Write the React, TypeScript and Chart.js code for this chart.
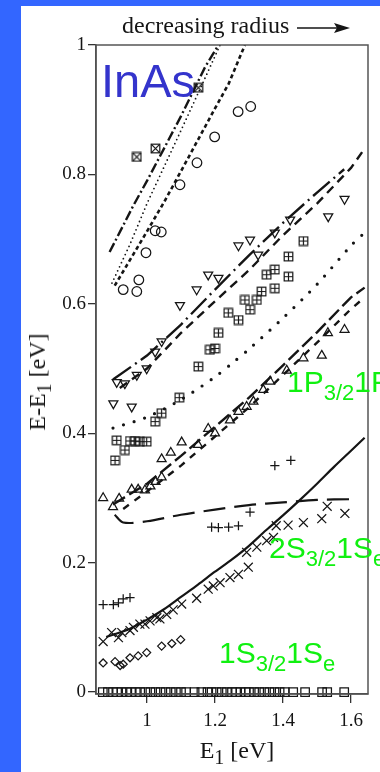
import React, { useEffect, useRef } from 'react';
import { Chart, registerables } from 'chart.js';
Chart.register(...registerables);

const INK = '#151515';
const SERIF = '"Liberation Serif", "Times New Roman", serif';
const SANS = '"Liberation Sans", Arial, sans-serif';
const GREEN = '#10f010';

const xTicks = [1, 1.2, 1.4, 1.6];
const yTicks = [0, 0.2, 0.4, 0.6, 0.8, 1];

// 1S3/2 1Se reference (open squares on zero)
const squaresZero: [number, number][] = [
  [0.87, 0], [0.885, 0], [0.9, 0], [0.912, 0], [0.925, 0], [0.94, 0], [0.953, 0], [0.967, 0], [0.98, 0],
  [0.995, 0], [1.01, 0], [1.025, 0], [1.04, 0], [1.055, 0], [1.07, 0], [1.085, 0], [1.1, 0], [1.115, 0],
  [1.14, 0], [1.16, 0], [1.178, 0], [1.19, 0], [1.205, 0], [1.22, 0], [1.235, 0], [1.25, 0], [1.262, 0],
  [1.275, 0], [1.29, 0], [1.3, 0], [1.315, 0], [1.33, 0], [1.345, 0], [1.36, 0], [1.375, 0], [1.39, 0],
  [1.405, 0], [1.43, 0], [1.465, 0], [1.515, 0], [1.53, 0], [1.58, 0],
];

const diamonds: [number, number][] = [
  [0.871, 0.045], [0.906, 0.047], [0.921, 0.041], [0.93, 0.043], [0.95, 0.053],
  [0.974, 0.056], [0.999, 0.061], [1.043, 0.071], [1.073, 0.075], [1.099, 0.081],
];

const crosses: [number, number][] = [
  [0.871, 0.078], [0.896, 0.092], [0.916, 0.084], [0.926, 0.092], [0.95, 0.095], [0.96, 0.1],
  [0.979, 0.105], [0.994, 0.105], [1.009, 0.11], [1.029, 0.115], [1.038, 0.113], [1.058, 0.12],
  [1.077, 0.127], [1.102, 0.136], [1.146, 0.145], [1.18, 0.159], [1.195, 0.164], [1.215, 0.169],
  [1.244, 0.177], [1.269, 0.182], [1.298, 0.193], [1.293, 0.216], [1.323, 0.224], [1.352, 0.234],
  [1.372, 0.239], [1.38, 0.257], [1.415, 0.258], [1.46, 0.262], [1.514, 0.268], [1.53, 0.287], [1.582, 0.276],
];

const solidCurve: [number, number][] = [
  [0.88, 0.085], [0.95, 0.098], [1.0, 0.112], [1.05, 0.128], [1.1, 0.147], [1.15, 0.166], [1.2, 0.186],
  [1.25, 0.205], [1.3, 0.226], [1.35, 0.25], [1.4, 0.273], [1.45, 0.297], [1.5, 0.322], [1.55, 0.348],
  [1.6, 0.373], [1.64, 0.393],
];

const pluses: [number, number][] = [
  [0.871, 0.135], [0.901, 0.135], [0.916, 0.138], [0.93, 0.144], [0.95, 0.146], [1.19, 0.255],
  [1.21, 0.254], [1.24, 0.255], [1.269, 0.257], [1.303, 0.278], [1.376, 0.35], [1.423, 0.358],
];

const plusCurve: [number, number][] = [
  [0.905, 0.274], [0.93, 0.262], [1.0, 0.264], [1.1, 0.274], [1.2, 0.282], [1.3, 0.289],
  [1.4, 0.293], [1.5, 0.297], [1.6, 0.298],
];

const triUp: [number, number][] = [
  [0.871, 0.3], [0.9, 0.286], [0.918, 0.299], [0.955, 0.313], [0.974, 0.313], [0.994, 0.312],
  [1.01, 0.318], [1.025, 0.325], [1.043, 0.332], [1.043, 0.36], [1.07, 0.37], [1.102, 0.386],
  [1.15, 0.382], [1.18, 0.407], [1.2, 0.4], [1.244, 0.42], [1.269, 0.433], [1.293, 0.441],
  [1.313, 0.449], [1.342, 0.467], [1.362, 0.48], [1.411, 0.497], [1.46, 0.516], [1.514, 0.52],
  [1.532, 0.555], [1.581, 0.56],
];

const triCurveA: [number, number][] = [
  [0.9, 0.29], [1.0, 0.322], [1.1, 0.365], [1.2, 0.41], [1.3, 0.455], [1.4, 0.505], [1.5, 0.556],
  [1.6, 0.61], [1.64, 0.625],
];
const triCurveB: [number, number][] = [
  [0.93, 0.283], [1.0, 0.31], [1.1, 0.35], [1.2, 0.395], [1.3, 0.44], [1.4, 0.49], [1.5, 0.54],
  [1.6, 0.592], [1.64, 0.61],
];

const boxPlus: [number, number][] = [
  [0.906, 0.358], [0.911, 0.389], [0.935, 0.374], [0.95, 0.388], [0.965, 0.388], [0.979, 0.387],
  [0.999, 0.387], [1.024, 0.418], [1.043, 0.431], [1.095, 0.455], [1.151, 0.503], [1.185, 0.529],
  [1.2, 0.531], [1.21, 0.555], [1.239, 0.586], [1.269, 0.575], [1.288, 0.606], [1.303, 0.591],
  [1.323, 0.606], [1.337, 0.619], [1.352, 0.645], [1.376, 0.653], [1.376, 0.624], [1.416, 0.642],
  [1.416, 0.673], [1.46, 0.697],
];

const boxPlusCurve: [number, number][] = [
  [0.9, 0.408], [1.0, 0.425], [1.1, 0.452], [1.2, 0.487], [1.25, 0.508], [1.3, 0.53], [1.4, 0.578],
  [1.5, 0.63], [1.6, 0.69], [1.64, 0.71],
];

const triDown: [number, number][] = [
  [0.901, 0.446], [0.911, 0.479], [0.935, 0.477], [0.955, 0.441], [0.97, 0.49], [0.999, 0.5],
  [1.024, 0.526], [1.043, 0.542], [1.097, 0.598], [1.146, 0.622], [1.18, 0.645], [1.21, 0.64],
  [1.269, 0.69], [1.303, 0.699], [1.327, 0.676], [1.376, 0.71], [1.421, 0.73], [1.533, 0.735],
  [1.581, 0.762],
];

const triDownCurveC: [number, number][] = [
  [0.9, 0.483], [1.0, 0.52], [1.1, 0.568], [1.2, 0.622], [1.3, 0.675], [1.4, 0.725], [1.5, 0.772],
  [1.58, 0.808],
];
const triDownCurveD: [number, number][] = [
  [0.92, 0.47], [1.0, 0.5], [1.1, 0.555], [1.2, 0.604], [1.3, 0.652], [1.4, 0.706], [1.5, 0.755],
  [1.6, 0.81], [1.64, 0.84],
];

const circles: [number, number][] = [
  [0.93, 0.622], [0.97, 0.619], [0.976, 0.637], [0.997, 0.679], [1.024, 0.713], [1.042, 0.711],
  [1.097, 0.784], [1.147, 0.818], [1.199, 0.858], [1.268, 0.897], [1.305, 0.905],
];

const boxX: [number, number][] = [
  [0.97, 0.827], [1.025, 0.84], [1.151, 0.934],
];

const topCurveE: [number, number][] = [
  [0.89, 0.68], [0.96, 0.752], [1.0, 0.79], [1.1, 0.89], [1.17, 0.965], [1.21, 1.0],
];
const topCurveF: [number, number][] = [
  [0.897, 0.632], [0.95, 0.692], [1.0, 0.755], [1.1, 0.868], [1.156, 0.932], [1.215, 1.0],
];
const topCurveG: [number, number][] = [
  [0.905, 0.628], [1.0, 0.712], [1.05, 0.757], [1.1, 0.805], [1.2, 0.902], [1.24, 0.94], [1.288, 1.0],
];

const toXY = (a: [number, number][]) => a.map(([x, y]) => ({ x, y }));

function makeBoxMarker(kind: 'plus' | 'x') {
  const c = document.createElement('canvas');
  c.width = 11;
  c.height = 11;
  const g = c.getContext('2d')!;
  g.strokeStyle = INK;
  g.lineWidth = 1.2;
  g.strokeRect(1.2, 1.2, 8.6, 8.6);
  g.beginPath();
  if (kind === 'plus') {
    g.moveTo(5.5, 1.2); g.lineTo(5.5, 9.8);
    g.moveTo(1.2, 5.5); g.lineTo(9.8, 5.5);
  } else {
    g.moveTo(1.2, 1.2); g.lineTo(9.8, 9.8);
    g.moveTo(9.8, 1.2); g.lineTo(1.2, 9.8);
  }
  g.stroke();
  return c;
}

const mkLine = (pts: [number, number][], dash: number[], width: number, cap = 'butt', tension = 0) => ({
  data: toXY(pts),
  showLine: true,
  borderColor: INK,
  borderWidth: width,
  borderDash: dash,
  borderCapStyle: cap,
  pointRadius: 0,
  pointHoverRadius: 0,
  tension,
  fill: false,
});

const mkPts = (pts: [number, number][], style: any, radius: number, extra: any = {}) => ({
  data: toXY(pts),
  showLine: false,
  pointStyle: style,
  pointRadius: radius,
  pointHoverRadius: radius,
  pointBorderColor: INK,
  pointBackgroundColor: 'rgba(0,0,0,0)',
  pointBorderWidth: 1.25,
  clip: false,
  ...extra,
});

const framePlugin = {
  id: 'frame',
  afterDraw(chart: any) {
    const { ctx, chartArea } = chart;
    const { left, top, right, bottom } = chartArea;
    ctx.save();
    ctx.strokeStyle = '#555';
    ctx.lineWidth = 1.5;
    ctx.strokeRect(left, top, right - left, bottom - top);
    ctx.restore();
  },
};

export default function App() {
  const ref = useRef<HTMLCanvasElement | null>(null);

  useEffect(() => {
    document.body.style.margin = '0';
    const canvas = ref.current;
    if (!canvas) return;
    const bp = makeBoxMarker('plus');
    const bx = makeBoxMarker('x');
    const tickFont = { family: SERIF, size: 19 };
    const chart = new Chart(canvas, {
      type: 'scatter',
      data: {
        datasets: [
          mkLine(solidCurve, [], 2.2, 'butt', 0.3),
          mkLine(plusCurve, [22, 9], 2.2, 'butt', 0.3),
          mkLine(triCurveA, [14, 5], 2.4),
          mkLine(triCurveB, [7, 7], 2.4),
          mkLine(boxPlusCurve, [0, 11], 3.2, 'round', 0.3),
          mkLine(triDownCurveC, [22, 5, 2, 5], 2.4),
          mkLine(triDownCurveD, [9, 6], 2.4),
          mkLine(topCurveE, [10, 3, 2, 3], 2.4),
          mkLine(topCurveF, [0, 4.5], 1.8, 'round'),
          mkLine(topCurveG, [4, 3], 2.6),
          mkPts(squaresZero, 'rect', 6),
          mkPts(diamonds, 'rectRot', 4),
          mkPts(crosses, 'crossRot', 6.3),
          mkPts(pluses, 'cross', 4.6),
          mkPts(triUp, 'triangle', 5.2),
          mkPts(boxPlus, bp, 5),
          mkPts(triDown, 'triangle', 5.2, { pointRotation: 180 }),
          mkPts(circles, 'circle', 4.8),
          mkPts(boxX, bx, 5),
        ] as any,
      },
      options: {
        animation: false,
        responsive: false,
        maintainAspectRatio: false,
        events: [],
        layout: { padding: { top: 45, right: 12, left: 0, bottom: 0 } },
        plugins: { legend: { display: false }, tooltip: { enabled: false } },
        scales: {
          x: {
            type: 'linear',
            min: 0.85,
            max: 1.65,
            afterBuildTicks: (s: any) => { s.ticks = xTicks.map((v) => ({ value: v })); },
            afterFit: (s: any) => { s.height = 78; },
            ticks: {
              callback: (v: any) => String(v),
              font: tickFont,
              color: INK,
              padding: 7,
              maxRotation: 0,
              autoSkip: false,
            },
            grid: { display: true, drawOnChartArea: false, drawTicks: true, tickLength: 9, color: '#333', lineWidth: 1.3 },
            border: { display: true, color: '#444', width: 1.5 },
          },
          y: {
            type: 'linear',
            min: -0.003,
            max: 1,
            afterBuildTicks: (s: any) => { s.ticks = yTicks.map((v) => ({ value: v })); },
            afterFit: (s: any) => { s.width = 96; },
            ticks: {
              callback: (v: any) => String(v),
              font: tickFont,
              color: INK,
              padding: 2,
              autoSkip: false,
            },
            grid: { display: true, drawOnChartArea: false, drawTicks: true, tickLength: 8, color: '#333', lineWidth: 1.3 },
            border: { display: true, color: '#444', width: 1.5 },
          },
        },
      } as any,
      plugins: [framePlugin],
    });
    return () => chart.destroy();
  }, []);

  const sub = (t: string, size: number, drop: number) => (
    <span style={{ fontSize: size, position: 'relative', top: drop }}>{t}</span>
  );

  const greenStyle = (left: number, top: number): React.CSSProperties => ({
    position: 'absolute', left, top, fontFamily: SANS, fontSize: 30, lineHeight: 1, color: GREEN, whiteSpace: 'nowrap',
  });

  return (
    <div style={{ position: 'fixed', left: 0, top: 0, width: 380, height: 772, overflow: 'hidden', background: '#3366ff' }}>
      <div style={{ position: 'absolute', left: 21, top: 6, right: 0, bottom: 0, background: '#ffffff' }} />
      <canvas ref={ref} width={380} height={772} style={{ position: 'absolute', left: 0, top: 0, width: 380, height: 772 }} />

      <div style={{ position: 'absolute', left: 122, top: 13, fontFamily: SERIF, fontSize: 24, lineHeight: 1, color: INK, whiteSpace: 'nowrap' }}>
        decreasing radius
      </div>
      <svg style={{ position: 'absolute', left: 297, top: 21 }} width={54} height={14}>
        <line x1={0} y1={7} x2={44} y2={7} stroke={INK} strokeWidth={1.6} />
        <polygon points="37,2 53,7 37,12 40,7" fill={INK} />
      </svg>

      <div style={{ position: 'absolute', left: 101, top: 57, fontFamily: SANS, fontSize: 47, lineHeight: 1, color: '#3434cc', whiteSpace: 'nowrap' }}>
        InAs
      </div>

      <div style={greenStyle(287, 366.6)}>1P{sub('3/2', 22, 8)}1P{sub('e', 22, 8)}</div>
      <div style={greenStyle(269, 532.6)}>2S{sub('3/2', 22, 8)}1S{sub('e', 22, 8)}</div>
      <div style={greenStyle(219, 637.6)}>1S{sub('3/2', 22, 8)}1S{sub('e', 22, 8)}</div>

      <div style={{ position: 'absolute', left: 37, top: 382, transform: 'translate(-50%, -50%) rotate(-90deg)', fontFamily: SERIF, fontSize: 24, lineHeight: 1, color: INK, whiteSpace: 'nowrap' }}>
        E-E{sub('1', 20, 6)} [eV]
      </div>
      <div style={{ position: 'absolute', left: 237, top: 738, transform: 'translateX(-50%)', fontFamily: SERIF, fontSize: 24, lineHeight: 1, color: INK, whiteSpace: 'nowrap' }}>
        E{sub('1', 20, 6)} [eV]
      </div>
    </div>
  );
}
